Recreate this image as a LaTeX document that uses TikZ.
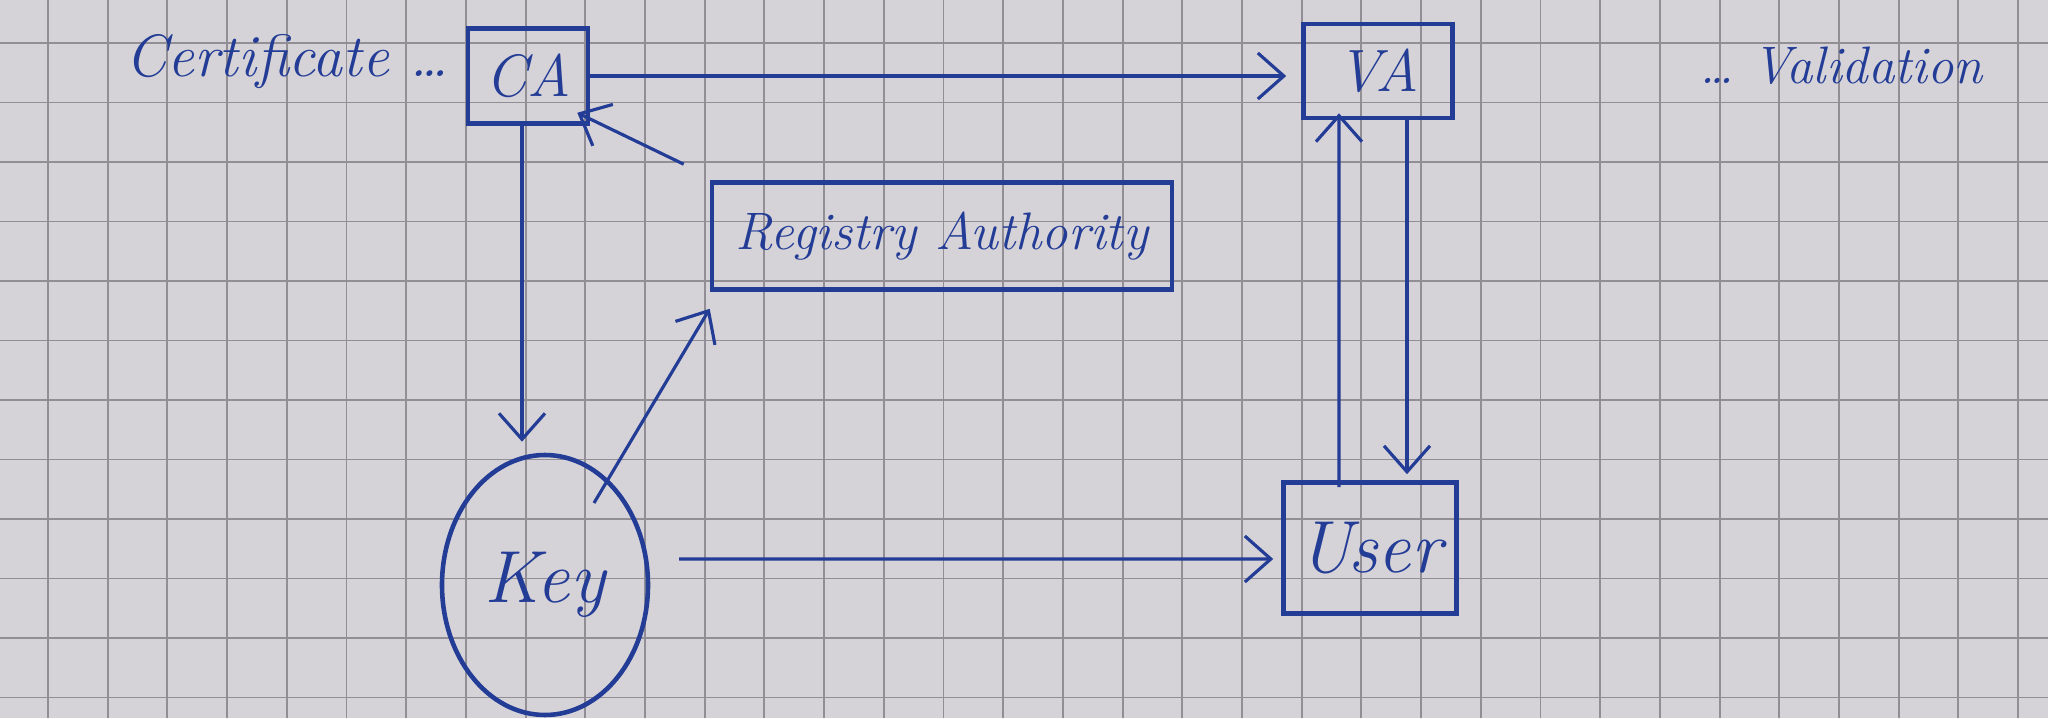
\documentclass[tikz,border=0pt]{standalone}
\usetikzlibrary{arrows.meta,calc,shapes.geometric}
\definecolor{ink}{RGB}{35,60,150}
\definecolor{paper}{RGB}{214,211,216}
\definecolor{gridc}{RGB}{145,142,150}
\begin{document}
\begin{tikzpicture}[
  box/.style={draw=ink, line width=1.3pt, text=ink, inner sep=0pt,
    font=\itshape\fontsize{17}{20}\selectfont},
  bigtext/.style={font=\itshape\fontsize{21}{24}\selectfont},
  lbl/.style={text=ink, inner sep=0pt, font=\itshape\fontsize{17}{20}\selectfont},
  arr/.style={draw=ink, line width=0.9pt,
    -{Straight Barb[length=2.6mm,width=4.6mm,line width=0.9pt]}},
  gridline/.style={draw=gridc, line width=0.55pt}
]
\fill[paper] (0,0) rectangle (20.48,7.18);
\useasboundingbox (0,0) rectangle (20.48,7.18);
% graph paper
\foreach \i in {0,...,33} \draw[gridline] ({0.48+0.597*\i},0) -- ({0.48+0.597*\i},7.18);
\foreach \k in {0,...,11} \draw[gridline] (0,{7.18-0.43-0.595*\k}) -- (20.48,{7.18-0.43-0.595*\k});

% nodes
\node[box, minimum width=1.2cm, minimum height=0.95cm] (CA) at (5.28,6.42) {CA};
\node[box, minimum width=1.49cm, minimum height=0.94cm] (VA) at (13.78,6.47) {VA};
\node[box, minimum width=4.6cm, minimum height=1.07cm,
  font=\itshape\fontsize{15}{18}\selectfont] (RA) at (9.42,4.82) {Registry Authority};
\node[box, bigtext, ellipse, minimum width=2.06cm, minimum height=2.6cm] (Key) at (5.45,1.33) {Key};
\node[box, bigtext, minimum width=1.73cm, minimum height=1.31cm] (User) at (13.70,1.70) {User};
\node[lbl, anchor=east] (cert) at (4.50,6.56) {Certificate \dots};
\node[lbl, font=\itshape\fontsize{15}{18}\selectfont] (valid) at (18.41,6.52) {\dots\ Validation};

% connectors
\draw[arr] (CA.east) -- ($(CA.east -| VA.west)+(-0.15,0)$);
\draw[arr] ([xshift=-0.06cm]CA.south) -- ($(Key.north)+(-0.23,0.11)$);
\draw[arr] ($(Key.center)+(0.49,0.82)$) -- ([yshift=-0.17cm]RA.south west);
\draw[arr] ([shift={(-0.26,0.16)}]RA.north west) -- ([shift={(-0.13,0.13)}]CA.south east);
\draw[arr] ($(Key.center)+(1.34,0.26)$) -- ($(User.west)+(-0.08,-0.11)$);
\draw[arr] ([xshift=-0.31cm,yshift=-0.07cm]User.north) -- ([xshift=-0.39cm,yshift=0.07cm]VA.south);
\draw[arr] ([xshift=0.29cm]VA.south) -- ([xshift=0.37cm,yshift=0.06cm]User.north);
\end{tikzpicture}
\end{document}
